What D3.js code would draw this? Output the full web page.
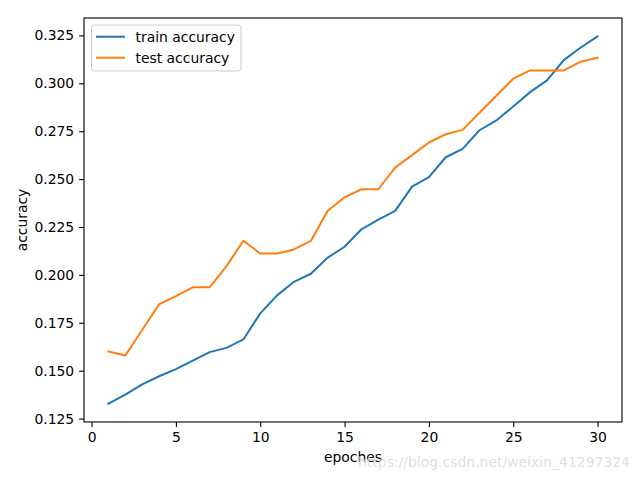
<!DOCTYPE html>
<html>
<head>
<meta charset="utf-8">
<script src="https://d3js.org/d3.v7.min.js"></script>
<style>
  body { margin: 0; background: #fff; }
  text { font-family: "DejaVu Sans", sans-serif; }
</style>
</head>
<body>
<svg width="640" height="480"></svg>
<script>
// values
var epochs = d3.range(1, 31);
var trainAcc = [0.1328, 0.1375, 0.1429, 0.1471, 0.1508, 0.1553, 0.1597, 0.1619, 0.1663, 0.1799,
                0.1893, 0.1964, 0.2006, 0.2090, 0.2147, 0.2238, 0.2288, 0.2334, 0.2461, 0.2510,
                0.2614, 0.2658, 0.2755, 0.2806, 0.2879, 0.2954, 0.3015, 0.3121, 0.3187, 0.3245];
var testAcc = [0.1600, 0.1579, 0.1712, 0.1846, 0.1889, 0.1935, 0.1935, 0.2046, 0.2178, 0.2112,
               0.2112, 0.2133, 0.2177, 0.2335, 0.2405, 0.2447, 0.2447, 0.2560, 0.2625, 0.2691,
               0.2734, 0.2757, 0.2846, 0.2935, 0.3024, 0.3067, 0.3067, 0.3067, 0.3113, 0.3133];
var xTicks = [0, 5, 10, 15, 20, 25, 30];
var yTicks = [0.125, 0.150, 0.175, 0.200, 0.225, 0.250, 0.275, 0.300, 0.325];
var seriesNames = ["train accuracy", "test accuracy"];
var colors = ["#1f77b4", "#ff7f0e"];

var plotL = 84, plotR = 622, plotT = 18, plotB = 422;

var svg = d3.select("svg");

// matplotlib style 5% margins
var x = d3.scaleLinear().domain([1 - 29 * 0.05, 30 + 29 * 0.05]).range([plotL, plotR]);
var lo = d3.min(trainAcc.concat(testAcc)), hi = d3.max(trainAcc.concat(testAcc));
var pad = (hi - lo) * 0.05;
var y = d3.scaleLinear().domain([lo - pad, hi + pad]).range([plotB, plotT]);

var line = d3.line()
    .x(function(d, i) { return x(epochs[i]); })
    .y(function(d) { return y(d); });

[trainAcc, testAcc].forEach(function(s, k) {
  svg.append("path")
    .datum(s)
    .attr("d", line)
    .attr("fill", "none")
    .attr("stroke", colors[k])
    .attr("stroke-width", 2)
    .attr("stroke-linejoin", "round")
    .attr("stroke-linecap", "square");
});

var xAxis = svg.append("g")
    .attr("transform", "translate(0," + plotB + ")")
    .call(d3.axisBottom(x).tickValues(xTicks).tickFormat(d3.format("d")).tickSize(4.9).tickPadding(4.9));
var yAxis = svg.append("g")
    .attr("transform", "translate(" + plotL + ",0)")
    .call(d3.axisLeft(y).tickValues(yTicks).tickFormat(d3.format(".3f")).tickSize(4.9).tickPadding(4.9));

[xAxis, yAxis].forEach(function(g) {
  g.select(".domain").remove();
  g.selectAll("line").attr("stroke", "#000").attr("stroke-width", 1.1);
  g.selectAll("text").attr("font-size", "13.9px").attr("fill", "#000")
    .attr("font-family", "DejaVu Sans, sans-serif");
});

// frame
svg.append("rect")
  .attr("x", plotL).attr("y", plotT)
  .attr("width", plotR - plotL).attr("height", plotB - plotT)
  .attr("fill", "none").attr("stroke", "#000").attr("stroke-width", 1.1);

svg.append("text")
  .attr("x", (plotL + plotR) / 2).attr("y", 462)
  .attr("text-anchor", "middle")
  .attr("font-size", "13.9px")
  .text("epoches");

svg.append("text")
  .attr("transform", "translate(27," + (plotT + plotB) / 2 + ") rotate(-90)")
  .attr("text-anchor", "middle")
  .attr("font-size", "13.9px")
  .text("accuracy");

// legend
var legend = svg.append("g").attr("transform", "translate(91.5,25)");
legend.append("rect")
  .attr("width", 149.5).attr("height", 46).attr("rx", 3)
  .attr("fill", "#fff").attr("fill-opacity", 0.8)
  .attr("stroke", "#ccc").attr("stroke-width", 1);
seriesNames.forEach(function(name, i) {
  legend.append("line")
    .attr("x1", 4.5).attr("x2", 33.5)
    .attr("y1", 11.7 + i * 21).attr("y2", 11.7 + i * 21)
    .attr("stroke", colors[i]).attr("stroke-width", 2);
  legend.append("text")
    .attr("x", 44).attr("y", 16.5 + i * 21)
    .attr("font-size", "13.9px")
    .text(name);
});

// watermark
svg.append("text")
  .attr("x", 358).attr("y", 467)
  .attr("font-family", "Liberation Sans, Arial, sans-serif")
  .attr("font-size", "14.5px")
  .attr("textLength", 272)
  .attr("lengthAdjust", "spacingAndGlyphs")
  .attr("fill", "#d8d8d8")
  .attr("fill-opacity", 0.85)
  .text("https://blog.csdn.net/weixin_41297324");
</script>
</body>
</html>
